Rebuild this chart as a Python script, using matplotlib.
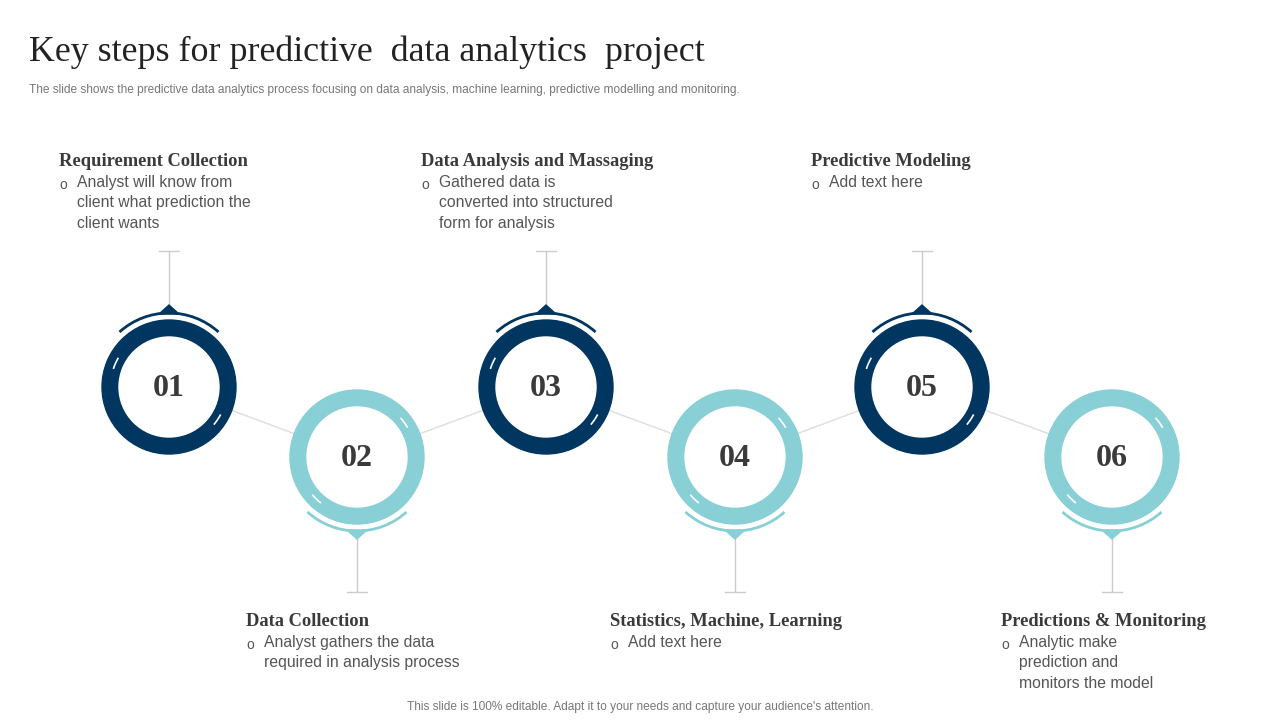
import matplotlib.pyplot as plt
from matplotlib.patches import Wedge, Arc, Polygon

numbers = ["01", "02", "03", "04", "05", "06"]
titles = ["Requirement Collection", "Data Collection", "Data Analysis and Massaging",
          "Statistics, Machine, Learning", "Predictive Modeling", "Predictions & Monitoring"]
bodies = ["Analyst will know from\nclient what prediction the\nclient wants",
          "Analyst gathers the data\nrequired in analysis process",
          "Gathered data is\nconverted into structured\nform for analysis",
          "Add text here",
          "Add text here",
          "Analytic make\nprediction and\nmonitors the model"]
centers_x = [169, 357, 546, 735, 922, 1112]
centers_y = [387, 457, 387, 457, 387, 457]
title_x = [59, 246, 421, 610, 811, 1001]

DARK = "#003660"
LIGHT = "#88CFD6"
GREY = "#555555"

fig = plt.figure(figsize=(12.8, 7.2), dpi=100)
ax = fig.add_axes([0, 0, 1, 1])
ax.set_xlim(0, 1280)
ax.set_ylim(720, 0)
ax.axis("off")

fig.text(29 / 1280, 1 - 52 / 720, "Key steps for predictive  data analytics  project",
         family="Liberation Serif", fontsize=25.8, color="#222222", va="center")
fig.text(29 / 1280, 1 - 90 / 720,
         "The slide shows the predictive data analytics process focusing on data analysis, machine learning, predictive modelling and monitoring.",
         family="Liberation Sans", fontsize=8.6, color="#777777", va="center")
fig.text(0.5, 1 - 707 / 720, "This slide is 100% editable. Adapt it to your needs and capture your audience's attention.",
         family="Liberation Sans", fontsize=8.6, color="#777777", ha="center", va="center")

# connector lines
ax.plot(centers_x, centers_y, color="#dddddd", lw=1, zorder=0)

for i, (cx, cy) in enumerate(zip(centers_x, centers_y)):
    top = i % 2 == 0
    col = DARK if top else LIGHT
    ax.add_patch(Wedge((cx, cy), 67, 0, 360, width=17, color=col, zorder=2))
    ax.add_patch(plt.Circle((cx, cy), 50, color="white", zorder=3))
    # white separator marks
    for ang in ([210, 40] if top else [330, 140]):
        ax.add_patch(Arc((cx, cy), 67 * 2 - 17, 67 * 2 - 17, theta1=ang - 12, theta2=ang,
                         color="white", lw=1.2, zorder=4))
    ax.text(cx, cy + 1, numbers[i], family="Liberation Serif", weight="bold",
            fontsize=23, color="#3a3a3a", ha="center", va="center", zorder=5)
    if top:
        ax.add_patch(Arc((cx, cy), 148, 148, theta1=228, theta2=312, color=col, lw=2, zorder=2))
        ax.add_patch(Polygon([(cx - 10, cy - 73), (cx + 10, cy - 73), (cx, cy - 82)], color=col, zorder=2))
        ax.plot([cx, cx], [251, cy - 82], color="#cccccc", lw=1, zorder=1)
        ax.plot([cx - 10, cx + 10], [251, 251], color="#cccccc", lw=1, zorder=1)
        ty = 161
    else:
        ax.add_patch(Arc((cx, cy), 148, 148, theta1=48, theta2=132, color=col, lw=2, zorder=2))
        ax.add_patch(Polygon([(cx - 10, cy + 73), (cx + 10, cy + 73), (cx, cy + 82)], color=col, zorder=2))
        ax.plot([cx, cx], [cy + 82, 592], color="#cccccc", lw=1, zorder=1)
        ax.plot([cx - 10, cx + 10], [592, 592], color="#cccccc", lw=1, zorder=1)
        ty = 621
    tx = title_x[i]
    ax.text(tx, ty + 1, titles[i], family="Liberation Serif", weight="bold", fontsize=13.3,
            color="#3a3a3a", va="center")
    ax.text(tx, ty + 24, "o", family="Liberation Sans", fontsize=10, color=GREY, va="center")
    ax.text(tx + 18, ty + 14, bodies[i], family="Liberation Sans", fontsize=11.3, color=GREY,
            va="top", linespacing=1.45)

fig.savefig("out.png", dpi=100)
